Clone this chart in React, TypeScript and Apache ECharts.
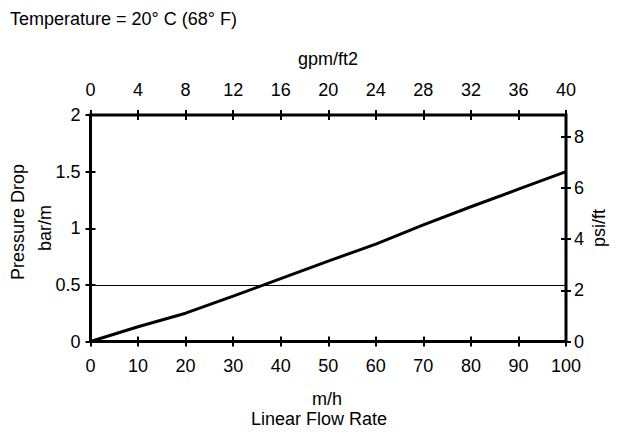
import React, { useEffect, useRef } from "react";
import * as echarts from "echarts";

const flowRate = [0, 10, 20, 30, 40, 50, 60, 70, 80, 90, 100];
const pressureDrop = [0, 0.13, 0.25, 0.4, 0.555, 0.71, 0.86, 1.03, 1.19, 1.345, 1.5];
const psiInterval = 2;
const refLine = 0.5;
const titleText = "Temperature = 20° C (68° F)";
const topAxisName = "gpm/ft2";
const bottomAxisName = "m/h";
const bottomTitle = "Linear Flow Rate";
const leftTitle = "Pressure Drop";
const leftAxisName = "bar/m";
const rightAxisName = "psi/ft";

const BAR_M_TO_PSI_FT = 14.5038 / 3.28084;

export default function App() {
  const ref = useRef<HTMLDivElement>(null);
  useEffect(() => {
    if (!ref.current) return;
    const chart = echarts.init(ref.current, null, { renderer: "svg" });
    const font = "'Liberation Sans', Arial, Helvetica, sans-serif";
    const fs = 18;
    const noLine = { show: false, onZero: false };
    const tickOut = { show: true, inside: false, length: 5, lineStyle: { color: "#000", width: 2 } };
    const tickIn = { show: true, inside: true, length: 5, lineStyle: { color: "#000", width: 2 } };
    const lbl = (margin: number) => ({ color: "#000", fontSize: fs, fontFamily: font, margin });
    const data = flowRate.map((x, i) => [x, pressureDrop[i]]);
    const leftMax = 2;
    const rightMax = leftMax * BAR_M_TO_PSI_FT;
    const txt = (text: string) => ({ text, fill: "#000", font: `${fs}px ${font}`, align: "center", verticalAlign: "middle" });
    chart.setOption({
      animation: false,
      grid: {
        left: 90.5, right: 52, top: 115, bottom: 94.5, containLabel: false,
        show: true, borderColor: "#000", borderWidth: 3, backgroundColor: "transparent",
      },
      xAxis: [
        { type: "value", position: "bottom", min: 0, max: 100, interval: 10, axisLine: noLine, axisTick: tickOut, axisLabel: lbl(15), splitLine: { show: false } },
        { type: "value", position: "bottom", min: 0, max: 100, interval: 10, axisLine: noLine, axisTick: tickIn, axisLabel: { show: false }, splitLine: { show: false } },
        { type: "value", position: "top", min: 0, max: 40, interval: 4, axisLine: noLine, axisTick: tickOut, axisLabel: lbl(16), splitLine: { show: false } },
        { type: "value", position: "top", min: 0, max: 40, interval: 4, axisLine: noLine, axisTick: tickIn, axisLabel: { show: false }, splitLine: { show: false } },
      ],
      yAxis: [
        { type: "value", position: "left", min: 0, max: leftMax, interval: 0.5, axisLine: noLine, axisTick: tickOut, axisLabel: lbl(10), splitLine: { show: false } },
        { type: "value", position: "left", min: 0, max: leftMax, interval: 0.5, axisLine: noLine, axisTick: tickIn, axisLabel: { show: false }, splitLine: { show: false } },
        {
          type: "value", position: "right", min: 0, max: rightMax, interval: psiInterval,
          axisLine: noLine,
          axisTick: tickOut,
          axisLabel: { ...lbl(8), showMaxLabel: false },
          splitLine: { show: false },
        },
        {
          type: "value", position: "right", min: 0, max: rightMax, interval: psiInterval,
          axisLine: noLine,
          axisTick: tickIn,
          axisLabel: { show: false },
          splitLine: { show: false },
        },
      ],
      series: [
        {
          type: "line",
          xAxisIndex: 0,
          yAxisIndex: 0,
          data,
          showSymbol: false,
          symbol: "none",
          lineStyle: { color: "#000", width: 3 },
          markLine: {
            silent: true,
            symbol: ["none", "none"],
            label: { show: false },
            lineStyle: { color: "#000", width: 1, type: "solid" },
            data: [{ yAxis: refLine }],
          },
          z: 3,
        },
      ],
      graphic: [
        { type: "text", x: 10, y: 18.5, style: { ...txt(titleText), align: "left" } },
        { type: "text", x: 328, y: 58.5, style: txt(topAxisName) },
        { type: "text", x: 327, y: 398.5, style: txt(bottomAxisName) },
        { type: "text", x: 319, y: 419, style: txt(bottomTitle) },
        { type: "text", x: 18, y: 222, rotation: Math.PI / 2, style: txt(leftTitle) },
        { type: "text", x: 45, y: 228, rotation: Math.PI / 2, style: txt(leftAxisName) },
        { type: "text", x: 599, y: 228, rotation: Math.PI / 2, style: txt(rightAxisName) },
      ],
    });
    return () => chart.dispose();
  }, []);
  return <div ref={ref} style={{ position: "fixed", left: 0, top: 0, width: 618, height: 436, background: "#fff" }} />;
}
